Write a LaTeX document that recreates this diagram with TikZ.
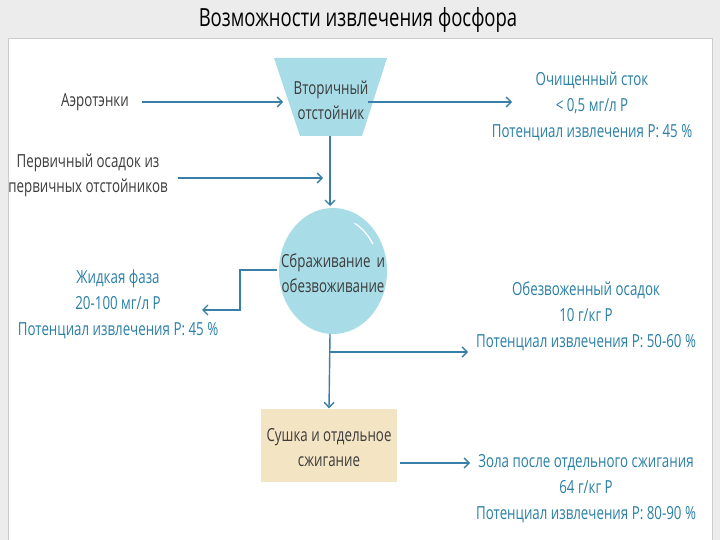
\documentclass[tikz,border=0pt]{standalone}
\usepackage{fontspec}
\setmainfont[FakeStretch=0.74]{Open Sans}
\usetikzlibrary{arrows.meta,shapes.geometric}
\definecolor{ln}{HTML}{3A7FA8}
\definecolor{tl}{HTML}{2A80A6}
\definecolor{cy}{HTML}{A8DCE7}
\definecolor{sand}{HTML}{F3E4C4}
\definecolor{gy}{HTML}{3C3C3C}
\tikzset{
 conn/.style={draw=ln,line width=1.4pt,-{Straight Barb[length=5pt,width=10pt]}},
 plain/.style={draw=ln,line width=1.4pt},
 lab/.style={font=\fontsize{18}{25}\selectfont,text=gy,align=center},
 res/.style={font=\fontsize{18}{26}\selectfont,text=tl,align=center},
}
\begin{document}
\begin{tikzpicture}[x=1pt,y=-1pt]
\useasboundingbox (0,0) rectangle (720,540);
\fill[gray!15] (0,0) rectangle (720,540);
\fill[white] (8,38) rectangle (712,540);
\draw[gray!40] (8,38) rectangle (712,540);
\node[font=\fontsize{25}{28}\selectfont] (title) at (358,20) {Возможности извлечения фосфора};
% trapezoid
\fill[cy] (274,58) -- (387,58) -- (362,136) -- (300,136) -- cycle;
\coordinate (tl) at (283,102); \coordinate (tr) at (368,102); \coordinate (tb) at (330,136);
\node[lab] (sec) at (331,100) {Вторичный\\отстойник};
\node[lab] (aero) at (95,102) {Аэротэнки};
\coordinate (aeroe) at (142,102);
\draw[conn] (aeroe) -- (tl);
\coordinate (cl) at (512,102);
\draw[conn] (tr) -- (cl);
\node[res] (clean) at (592,106) {Очищенный сток\\< 0,5 мг/л P\\Потенциал извлечения P: 45 \%};
% circle
\node[draw=none,fill=cy,ellipse,minimum width=108pt,minimum height=126pt,inner sep=0pt] (dig) at (333,271) {};
\draw[white,line width=1.2pt] (dig.center) ++(30:46pt and 54pt) arc[start angle=30,end angle=62,x radius=46pt,y radius=54pt];
\node[lab,text width=110pt] (digt) at (333,273) {Сбраживание и\\обезвоживание};
\draw[conn] (tb) -- (330,206);
\node[lab] (prim) at (88,175) {Первичный осадок из\\первичных отстойников};
\coordinate (ps) at (178,178); \coordinate (pe) at (323,178);
\draw[conn] (ps) -- (pe);
% liquid
\coordinate (la) at (277,270); \coordinate (lb) at (202,310);
\draw[conn] (la) -- (240,270) -- (240,310) -- (lb);
\node[res] (liq) at (118,304) {Жидкая фаза\\20-100 мг/л P\\Потенциал извлечения P: 45 \%};
% down
\node[fill=sand,minimum width=136pt,minimum height=73pt,inner sep=0pt] (dry) at (329,445) {};
\node[lab] (dryt) at (329,448) {Сушка и отдельное\\сжигание};
\draw[conn] (330,334) -- (dry.north);
\coordinate (dwe) at (468,352);
\draw[conn] (330,352) -- (dwe);
\node[res] (dw) at (586,316) {Обезвоженный осадок\\10 г/кг P\\Потенциал извлечения P: 50-60 \%};
\coordinate (as) at (400,463); \coordinate (ae) at (470,463);
\draw[conn] (as) -- (ae);
\node[res] (ash) at (586,489) {Зола после отдельного сжигания\\64 г/кг P\\Потенциал извлечения P: 80-90 \%};
\end{tikzpicture}
\end{document}
